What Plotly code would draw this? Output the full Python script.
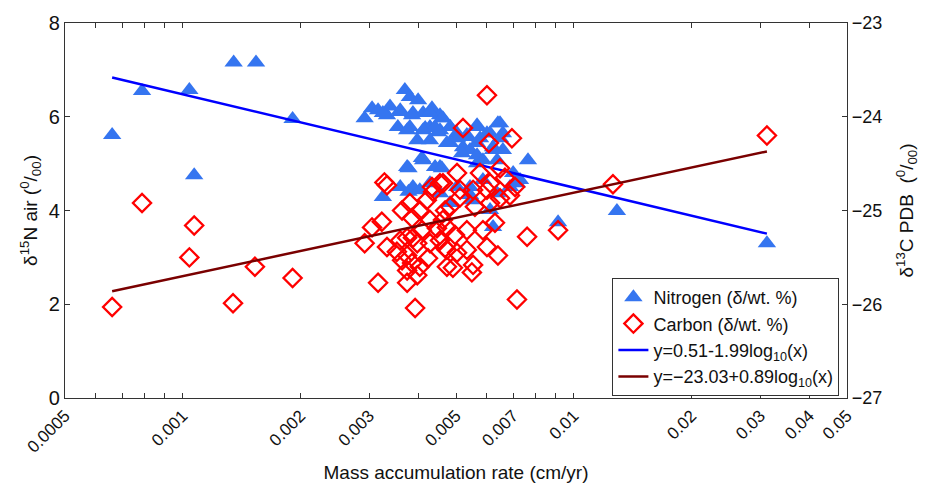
import numpy as np
import plotly.graph_objects as go

# Nitrogen: mass accumulation rate (cm/yr) and d15N (per mil)
n_x = [0.00066, 0.000787, 0.00104, 0.00107, 0.00135, 0.00154, 0.00191, 0.00912, 0.0129, 0.0312, 0.00764,
       0.00292, 0.00305, 0.00316, 0.00333, 0.00339, 0.00370, 0.00381, 0.00400, 0.00360, 0.00355,
       0.00388, 0.00412, 0.00437, 0.00463, 0.00429, 0.00455, 0.00483, 0.00503, 0.00533, 0.00566,
       0.00600, 0.00648, 0.00659, 0.00566, 0.00622, 0.00521, 0.00483, 0.00659, 0.00409, 0.00375,
       0.00455, 0.00566, 0.00637, 0.00700, 0.00360, 0.00325, 0.00388, 0.00429, 0.00455, 0.00503,
       0.00543, 0.00586, 0.00637, 0.00687, 0.00729, 0.00611, 0.00622, 0.00553, 0.00483, 0.00378,
       0.00404, 0.00543, 0.00716, 0.00434, 0.00455, 0.00417, 0.00450, 0.00381, 0.00442,
       0.00360, 0.00325, 0.00386, 0.00429, 0.00460, 0.00442, 0.00412, 0.00375, 0.00483, 0.00566,
       0.00640, 0.00533, 0.00503, 0.00576, 0.00611, 0.00648, 0.00474, 0.00429, 0.00398, 0.00543,
       0.00518, 0.00622, 0.00566, 0.00586, 0.00412, 0.00378, 0.00460]
n_y = [5.61, 6.55, 6.57, 4.75, 7.16, 7.16, 5.95, 3.75, 3.99, 3.30, 5.07,
       5.97, 6.18, 6.14, 6.03, 6.22, 6.57, 6.42, 6.35, 6.14, 5.78,
       6.08, 6.08, 6.08, 5.97, 5.78, 5.71, 5.78, 5.65, 5.57, 5.82,
       5.65, 5.86, 5.65, 5.44, 5.35, 5.35, 5.44, 5.29, 5.12, 4.93,
       4.93, 5.01, 5.07, 4.80, 4.50, 4.29, 4.50, 4.58, 4.37, 4.50,
       4.50, 4.65, 4.37, 4.50, 4.65, 4.01, 3.65, 4.22, 4.16, 4.40,
       4.43, 4.33, 4.58, 6.18, 6.03, 5.76, 5.67, 5.78, 4.93,
       6.10, 6.08, 6.03, 6.08, 5.97, 5.78, 5.71, 5.71, 5.78, 5.78,
       5.86, 5.61, 5.54, 5.54, 5.65, 5.54, 5.44, 5.50, 5.50, 5.29,
       5.22, 5.29, 5.18, 5.07, 5.07, 4.90, 4.90]

# Carbon: mass accumulation rate (cm/yr) and d13C PDB (per mil)
c_x = [0.00066, 0.000787, 0.00104, 0.00107, 0.001345, 0.00153, 0.00191, 0.0126, 0.0312, 0.00912,
       0.00760, 0.00716, 0.00600, 0.00521, 0.00607, 0.00695,
       0.00328, 0.00333, 0.00305, 0.00323, 0.00292, 0.00333, 0.00364, 0.00381, 0.00386, 0.00404,
       0.00360, 0.00375, 0.00388, 0.00398, 0.00409, 0.00353, 0.00375, 0.00364, 0.00386, 0.00404,
       0.00375, 0.00424, 0.00429, 0.00455, 0.00447, 0.00429, 0.00421, 0.00437, 0.00455, 0.00434,
       0.00474, 0.00398, 0.00316, 0.00375, 0.00393, 0.00463, 0.00474,
       0.00503, 0.00463, 0.00576, 0.00648, 0.00611, 0.00667, 0.00708, 0.00600, 0.00553, 0.00512,
       0.00483, 0.00469, 0.00512, 0.00611, 0.00648, 0.00687, 0.00559, 0.00629, 0.00586, 0.00533,
       0.00497, 0.00474, 0.00503, 0.00533, 0.00469, 0.00600, 0.00640, 0.00553, 0.00549, 0.00491]
c_y = [-26.03, -24.92, -25.50, -25.16, -25.99, -25.60, -25.72, -24.72, -24.20, -25.21,
       -25.28, -25.95, -23.77, -24.12, -24.28, -24.23,
       -24.70, -24.73, -25.18, -25.12, -25.35, -25.39, -25.00, -24.92, -25.08, -25.00,
       -25.32, -25.29, -25.29, -25.35, -25.21, -25.44, -25.48, -25.53, -25.56, -25.60,
       -25.64, -25.51, -25.35, -25.32, -25.19, -25.10, -24.89, -24.80, -24.71, -24.75,
       -25.60, -25.69, -25.77, -25.77, -26.04, -25.10, -25.42,
       -24.60, -24.71, -24.60, -24.55, -24.71, -24.65, -24.75, -24.78, -24.78, -24.86,
       -24.96, -25.00, -24.78, -24.92, -24.87, -24.84, -24.96, -25.13, -25.21, -25.21,
       -25.26, -25.18, -25.45, -25.42, -25.40, -25.39, -25.48, -25.58, -25.66, -25.61]

# Regression coefficients from the legend: y = a + b*log10(x)
n_fit = (0.51, -1.99)
c_fit = (-23.03, 0.89)

x_ticks = [0.0005, 0.0006, 0.0007, 0.0008, 0.0009, 0.001, 0.002, 0.003, 0.004, 0.005, 0.006,
           0.007, 0.008, 0.009, 0.01, 0.02, 0.03, 0.04, 0.05]
x_ticktext = ["0.0005", "", "", "", "", "0.001", "0.002", "0.003", "", "0.005", "",
              "0.007", "", "", "0.01", "0.02", "0.03", "0.04", "0.05"]
y_ticks = [0, 2, 4, 6, 8]
y2_ticks = [-27, -26, -25, -24, -23]
y2_ticktext = ["\u221227", "\u221226", "\u221225", "\u221224", "\u221223"]

FONT = "Liberation Sans, Arial, sans-serif"

xf = np.logspace(np.log10(min(n_x)), np.log10(max(n_x)), 50)

fig = go.Figure()
fig.add_trace(go.Scatter(
    x=n_x, y=n_y, mode="markers", name="Nitrogen (δ/wt. %)",
    marker=dict(symbol="triangle-up", size=16, color="#3575f0", line=dict(width=0))))
fig.add_trace(go.Scatter(
    x=c_x, y=c_y, mode="markers", name="Carbon (δ/wt. %)", yaxis="y2",
    marker=dict(symbol="diamond-open", size=14, color="#ff0000", line=dict(width=2.3, color="#ff0000"))))
fig.add_trace(go.Scatter(
    x=xf, y=n_fit[0] + n_fit[1] * np.log10(xf), mode="lines",
    name="y=0.51-1.99log<sub>10</sub>(x)", line=dict(color="#0000ff", width=2.5)))
fig.add_trace(go.Scatter(
    x=xf, y=c_fit[0] + c_fit[1] * np.log10(xf), mode="lines", yaxis="y2",
    name="y=\u221223.03+0.89log<sub>10</sub>(x)", line=dict(color="#7a0000", width=2.5)))

axis_common = dict(showline=True, linecolor="#333", linewidth=1.3, ticks="inside", ticklen=5,
                   tickcolor="#333", showgrid=False, zeroline=False, automargin=False)

fig.update_layout(
    width=925, height=484,
    margin=dict(l=65, r=78, t=23, b=86),
    paper_bgcolor="white", plot_bgcolor="white",
    font=dict(family=FONT, color="#111", size=16),
    xaxis=dict(type="log", range=[np.log10(0.0005), np.log10(0.05)], tickvals=x_ticks,
               ticktext=x_ticktext, tickangle=-45, tickfont=dict(size=17), mirror="ticks",
               title=dict(text="Mass accumulation rate (cm/yr)", font=dict(size=19), standoff=10),
               **axis_common),
    yaxis=dict(range=[0, 8], tickvals=y_ticks, tickfont=dict(size=20), mirror=False,
               title=dict(text="δ<sup>15</sup>N air (<sup>0</sup>/<sub>00</sub>)", font=dict(size=19),
                          standoff=6),
               **axis_common),
    yaxis2=dict(range=[-27, -23], tickvals=y2_ticks, overlaying="y", side="right",
                ticktext=y2_ticktext, tickfont=dict(size=18),
                title=dict(text="δ<sup>13</sup>C PDB  (<sup>0</sup>/<sub>00</sub>)", font=dict(size=19),
                           standoff=18),
                **axis_common),
    legend=dict(x=0.70, y=0.32, xanchor="left", yanchor="top", bgcolor="white",
                bordercolor="#333", borderwidth=1, font=dict(size=18), tracegroupgap=0,
                itemsizing="trace"),
)

fig.write_html("out.html")
